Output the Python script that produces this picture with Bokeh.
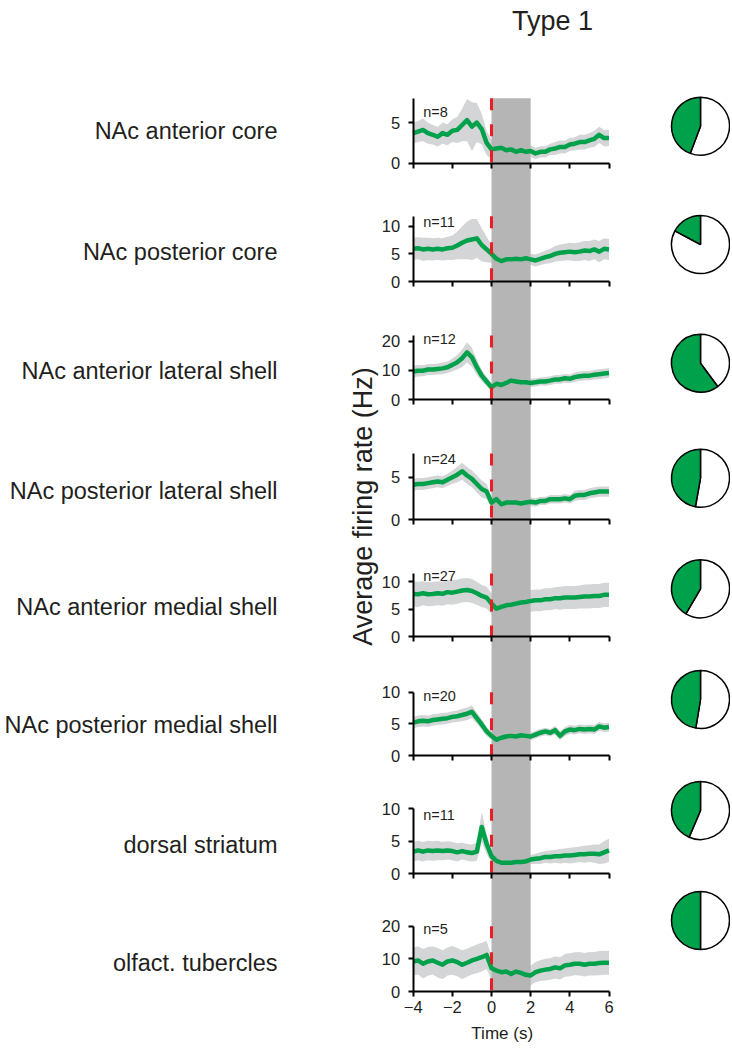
import math
from bokeh.plotting import figure
from bokeh.models import Range1d, LinearAxis, FixedTicker, ColumnDataSource, Label
from bokeh.core.properties import value
from bokeh.embed import file_html
from bokeh.resources import INLINE

# ---------------- data ----------------
TIME = [-4.0, -3.75, -3.5, -3.25, -3.0, -2.75, -2.5, -2.25, -2.0, -1.75, -1.5, -1.25, -1.0, -0.75,
        -0.5, -0.25, 0.0, 0.25, 0.5, 0.75, 1.0, 1.25, 1.5, 1.75, 2.0, 2.25, 2.5, 2.75, 3.0, 3.25,
        3.5, 3.75, 4.0, 4.25, 4.5, 4.75, 5.0, 5.25, 5.5, 5.75, 6.0]

REGIONS = ["NAc anterior core", "NAc posterior core", "NAc anterior lateral shell",
           "NAc posterior lateral shell", "NAc anterior medial shell", "NAc posterior medial shell",
           "dorsal striatum", "olfact. tubercles"]
N_UNITS = [8, 11, 12, 24, 27, 20, 11, 5]
AXIS_TOP = [8, 11.8, 22, 7.8, 11.5, 10, 10, 20]
Y_TICKS = [[0, 5], [0, 5, 10], [0, 10, 20], [0, 5], [0, 5, 10], [0, 5, 10], [0, 5, 10], [0, 10, 20]]
X_TICKS = [-4, -2, 0, 2, 4, 6]
STIM_START, STIM_END = 0, 2
PIE_FRACTION = [0.443, 0.172, 0.601, 0.472, 0.416, 0.474, 0.436, 0.5]

MEAN_ANT_CORE = [3.7, 3.9, 4.1, 3.7, 3.5, 3.25, 3.7, 3.5, 4.0, 4.1, 4.7, 5.3, 4.5, 5.0, 4.2, 2.5, 1.7,
                 1.8, 1.9, 1.6, 1.7, 1.4, 1.6, 1.4, 1.5, 1.2, 1.4, 1.4, 1.7, 1.8, 2.0, 2.0, 2.3, 2.4,
                 2.6, 2.6, 2.8, 3.0, 3.5, 3.1, 3.1]
SEM_ANT_CORE = [1.3, 1.3, 1.4, 1.3, 1.2, 1.2, 1.3, 1.3, 1.4, 1.6, 2.0, 2.6, 3.0, 2.4, 1.9, 1.5, 1.2,
                1.0, 0.8, 0.8, 0.7, 0.7, 0.7, 0.7, 0.7, 0.7, 0.7, 0.7, 0.7, 0.8, 0.8, 0.8, 0.8, 0.8,
                0.9, 0.9, 0.9, 1.0, 1.0, 1.0, 1.0]

MEAN_POST_CORE = [5.9, 6.0, 5.8, 5.9, 5.8, 5.9, 5.8, 6.0, 6.1, 6.5, 7.0, 7.4, 7.6, 7.8, 6.6, 5.8, 5.0,
                  4.1, 3.7, 4.0, 4.0, 4.1, 4.0, 4.2, 4.0, 3.8, 4.1, 4.4, 4.6, 5.0, 5.2, 5.3, 5.4, 5.3,
                  5.4, 5.6, 5.5, 5.8, 5.4, 5.9, 5.8]
SEM_POST_CORE = [2.0, 2.0, 2.1, 2.0, 2.0, 2.0, 2.0, 2.1, 2.2, 2.5, 3.0, 3.4, 3.7, 3.5, 3.0, 2.3, 1.6,
                 1.2, 1.0, 1.0, 1.0, 1.0, 1.0, 1.0, 1.0, 1.1, 1.1, 1.2, 1.3, 1.4, 1.5, 1.5, 1.6, 1.6,
                 1.7, 1.7, 1.8, 1.8, 1.9, 1.9, 1.9]

MEAN_ANT_LAT = [9.6, 9.9, 9.9, 10.3, 10.3, 10.5, 10.7, 11.1, 11.9, 12.8, 14.2, 16.2, 14.5, 11.1, 8.2,
                6.2, 4.2, 5.4, 5.0, 5.7, 6.5, 6.2, 5.9, 5.9, 5.7, 5.9, 6.2, 6.2, 6.5, 6.9, 6.9, 7.3,
                7.1, 7.7, 8.0, 8.2, 8.2, 8.5, 8.7, 8.9, 9.1]
SEM_ANT_LAT = [2.0, 2.0, 1.9, 1.9, 1.9, 1.9, 2.0, 2.0, 2.2, 2.5, 3.0, 3.5, 3.2, 2.6, 2.0, 1.6, 1.4,
               1.4, 1.4, 1.4, 1.4, 1.4, 1.4, 1.4, 1.4, 1.4, 1.4, 1.5, 1.5, 1.5, 1.5, 1.5, 1.5, 1.6,
               1.6, 1.6, 1.6, 1.6, 1.7, 1.7, 1.7]

MEAN_POST_LAT = [4.1, 4.2, 4.2, 4.3, 4.4, 4.5, 4.4, 4.7, 5.0, 5.3, 5.7, 5.2, 4.8, 4.2, 3.6, 3.3, 2.0,
                 2.4, 1.8, 2.0, 2.0, 2.0, 1.9, 2.0, 2.1, 2.0, 2.2, 2.2, 2.4, 2.4, 2.4, 2.5, 2.4, 2.8,
                 2.9, 2.9, 3.1, 3.2, 3.3, 3.3, 3.3]
SEM_POST_LAT = [0.7, 0.7, 0.7, 0.7, 0.7, 0.7, 0.7, 0.7, 0.8, 0.9, 1.0, 1.0, 1.0, 1.0, 1.0, 0.9, 0.7,
                0.6, 0.5, 0.5, 0.5, 0.5, 0.5, 0.5, 0.5, 0.5, 0.5, 0.5, 0.5, 0.5, 0.5, 0.5, 0.5, 0.6,
                0.6, 0.6, 0.6, 0.6, 0.6, 0.6, 0.6]

MEAN_ANT_MED = [7.75, 7.7, 7.9, 7.7, 7.75, 7.9, 7.8, 8.1, 8.0, 8.2, 8.4, 8.5, 8.3, 7.9, 7.4, 7.1,
                6.0, 5.1, 5.4, 5.7, 5.8, 6.0, 6.2, 6.3, 6.5, 6.6, 6.6, 6.8, 6.8, 7.0, 7.0, 7.1, 7.1,
                7.1, 7.2, 7.3, 7.3, 7.4, 7.4, 7.6, 7.6]
SEM_ANT_MED = [2.3, 2.3, 2.2, 2.2, 2.2, 2.2, 2.2, 2.2, 2.2, 2.2, 2.2, 2.2, 2.2, 2.1, 2.0, 2.0, 1.9,
               1.9, 1.9, 1.9, 1.9, 1.9, 1.9, 2.0, 2.0, 2.0, 2.0, 2.0, 2.0, 2.0, 2.1, 2.1, 2.1, 2.1,
               2.1, 2.2, 2.2, 2.2, 2.2, 2.2, 2.2]

MEAN_POST_MED = [5.2, 5.4, 5.5, 5.4, 5.6, 5.7, 5.8, 5.9, 6.1, 6.2, 6.4, 6.6, 6.9, 5.9, 4.9, 3.8, 3.1,
                 2.5, 2.8, 3.0, 3.1, 3.0, 3.2, 3.1, 3.0, 3.3, 3.6, 3.8, 3.6, 4.0, 3.1, 3.8, 4.1, 4.0,
                 4.2, 4.1, 4.2, 4.1, 4.6, 4.4, 4.5]
SEM_POST_MED = [0.9, 0.9, 0.9, 0.9, 0.9, 0.9, 0.9, 0.9, 0.9, 0.9, 1.0, 1.0, 1.0, 0.9, 0.8, 0.7, 0.6,
                0.6, 0.6, 0.6, 0.6, 0.6, 0.6, 0.6, 0.6, 0.6, 0.6, 0.6, 0.6, 0.7, 0.7, 0.7, 0.7, 0.7,
                0.7, 0.7, 0.7, 0.7, 0.7, 0.7, 0.7]

MEAN_DORSAL = [3.4, 3.6, 3.4, 3.6, 3.5, 3.6, 3.5, 3.6, 3.5, 3.3, 3.5, 3.3, 3.2, 3.4, 7.2, 4.6, 2.7,
               2.0, 1.7, 1.7, 1.7, 1.8, 1.8, 1.9, 2.2, 2.3, 2.4, 2.6, 2.6, 2.7, 2.7, 2.8, 2.8, 2.9,
               3.0, 3.0, 3.1, 3.1, 3.0, 3.3, 3.6]
SEM_DORSAL = [1.5, 1.5, 1.5, 1.5, 1.5, 1.5, 1.4, 1.4, 1.4, 1.4, 1.3, 1.3, 1.3, 1.4, 2.3, 1.5, 1.0,
              0.7, 0.6, 0.6, 0.6, 0.6, 0.6, 0.7, 0.7, 0.8, 0.9, 0.9, 1.0, 1.0, 1.1, 1.1, 1.2, 1.2,
              1.2, 1.3, 1.3, 1.4, 1.5, 1.7, 1.8]

MEAN_OLFACT = [9.2, 9.5, 8.5, 9.2, 9.5, 8.8, 8.2, 9.2, 9.5, 9.0, 8.2, 8.8, 9.5, 10.0, 10.5, 11.2,
               7.1, 6.4, 5.9, 6.1, 5.4, 6.1, 5.7, 5.1, 4.9, 5.9, 6.4, 6.7, 6.9, 7.4, 7.1, 8.0, 8.2,
               8.5, 8.5, 8.2, 8.5, 8.5, 8.7, 8.8, 8.8]
SEM_OLFACT = [4.3, 4.3, 4.5, 4.4, 4.3, 4.5, 4.4, 4.3, 4.4, 4.3, 4.4, 4.3, 4.3, 4.4, 4.4, 4.3, 3.6,
              3.3, 3.1, 3.0, 3.0, 3.0, 3.0, 3.0, 3.0, 3.1, 3.2, 3.3, 3.3, 3.4, 3.4, 3.5, 3.5, 3.5,
              3.6, 3.6, 3.6, 3.6, 3.7, 3.7, 3.7]

MEANS = [MEAN_ANT_CORE, MEAN_POST_CORE, MEAN_ANT_LAT, MEAN_POST_LAT,
         MEAN_ANT_MED, MEAN_POST_MED, MEAN_DORSAL, MEAN_OLFACT]
SEMS = [SEM_ANT_CORE, SEM_POST_CORE, SEM_ANT_LAT, SEM_POST_LAT,
        SEM_ANT_MED, SEM_POST_MED, SEM_DORSAL, SEM_OLFACT]

# ---------------- layout (page pixels; canvas sits at the page origin) ----------------
W, H = 730, 1046
OFF = 0
ZERO_PAGE = [162.7, 281, 399, 519, 636, 755, 873.3, 991]
PANEL_PX = [65, 65.3, 64, 66, 63, 63.3, 65, 65.3]
T_LEFT_PX, T_RIGHT_PX = 412.7, 608.5
LABEL_RIGHT = 277
LABEL_Y = [130, 251, 370, 490, 606, 724, 844, 962]
NLAB_X = 422.7
NLAB_Y = [111.7, 221, 338.3, 458.3, 575, 695, 814, 928]
PIE_X = 700
PIE_Y = [125.7, 244, 362.7, 477.7, 588.3, 699, 810, 920]
PIE_R = 29

GREEN = "#00A14B"
SEM_COLOR = "#D4D5D6"
BAND_COLOR = "#B5B5B5"
RED = "#ED1C24"
FONT = "Liberation Sans"
TEXT_COLOR = "#231F20"

pxu = (T_RIGHT_PX - T_LEFT_PX) / (X_TICKS[-1] - X_TICKS[0])
t_start = X_TICKS[0] - (T_LEFT_PX - OFF) / pxu
t_end = X_TICKS[-1] + (W - (T_RIGHT_PX - OFF)) / pxu

p = figure(width=W, height=H, output_backend="svg", toolbar_location=None,
           x_range=Range1d(0, W), y_range=Range1d(H, 0),
           x_axis_type=None, y_axis_type=None, min_border=0,
           outline_line_color=None, background_fill_color="white")
p.extra_x_ranges = {"t": Range1d(t_start, t_end)}

ranges = {}
for i in range(8):
    zc = ZERO_PAGE[i] - OFF
    s = PANEL_PX[i] / AXIS_TOP[i]
    ranges[f"p{i}"] = Range1d((zc - H) / s, zc / s)
p.extra_y_ranges = ranges


def style_axis(ax):
    ax.axis_line_color = "black"
    ax.axis_line_width = 2
    ax.major_tick_line_color = "black"
    ax.major_tick_line_width = 2
    ax.major_tick_in = 0
    ax.major_tick_out = 5
    ax.minor_tick_line_color = None
    ax.major_label_text_font = FONT
    ax.major_label_text_font_size = "16.5px"
    ax.major_label_text_color = TEXT_COLOR


sources = []
for i in range(8):
    m, e = MEANS[i], SEMS[i]
    src = ColumnDataSource(dict(t=TIME, m=m,
                                lo=[a - b for a, b in zip(m, e)],
                                hi=[a + b for a, b in zip(m, e)]))
    sources.append(src)
    p.varea(x="t", y1="lo", y2="hi", source=src, x_range_name="t", y_range_name=f"p{i}",
            fill_color=SEM_COLOR)

# stimulus band, spanning all panels
p.quad(left=[STIM_START], right=[STIM_END],
       top=[ZERO_PAGE[0] - PANEL_PX[0] - OFF], bottom=[ZERO_PAGE[-1] - OFF],
       x_range_name="t", fill_color=BAND_COLOR, line_color=None)

for i in range(8):
    p.line(x="t", y="m", source=sources[i], x_range_name="t", y_range_name=f"p{i}",
           line_color=GREEN, line_width=4.5, line_join="round")
    p.segment(x0=[0], y0=[AXIS_TOP[i]], x1=[0], y1=[0], x_range_name="t", y_range_name=f"p{i}",
              line_color=RED, line_width=3, line_dash="12 14")

    yax = LinearAxis(x_range_name="t", y_range_name=f"p{i}", fixed_location=X_TICKS[0],
                     bounds=(0, AXIS_TOP[i]), ticker=FixedTicker(ticks=Y_TICKS[i]))
    style_axis(yax)
    yax.major_label_standoff = 8
    p.add_layout(yax, "left")

    xax = LinearAxis(x_range_name="t", y_range_name=f"p{i}", fixed_location=0,
                     bounds=(X_TICKS[0], X_TICKS[-1]), ticker=FixedTicker(ticks=X_TICKS))
    style_axis(xax)
    xax.major_label_standoff = 4
    if i < 7:
        xax.major_label_overrides = {t: "" for t in X_TICKS}
    p.add_layout(xax, "below")

# pies
for i in range(8):
    f = PIE_FRACTION[i]
    cx, cy = PIE_X - OFF, PIE_Y[i] - OFF
    a0 = math.pi / 2
    a1 = a0 + 2 * math.pi * f
    p.wedge(x=[cx], y=[cy], radius=PIE_R, start_angle=a1, end_angle=a0 + 2 * math.pi,
            direction="anticlock", fill_color="white", line_color="black", line_width=1.5)
    p.wedge(x=[cx], y=[cy], radius=PIE_R, start_angle=a0, end_angle=a1,
            direction="anticlock", fill_color=GREEN, line_color="black", line_width=1.5)

# region labels
p.text(x=[LABEL_RIGHT - OFF] * 8, y=[y - OFF for y in LABEL_Y], text=REGIONS,
       text_align="right", text_baseline="middle", text_font=value(FONT),
       text_font_size="23.5px", text_color=TEXT_COLOR)

# n labels
p.text(x=[NLAB_X - OFF] * 8, y=[y - OFF for y in NLAB_Y], text=[f"n={n}" for n in N_UNITS],
       text_align="left", text_baseline="middle", text_font=value(FONT),
       text_font_size="14.5px", text_color=TEXT_COLOR)

p.add_layout(Label(x=552 - OFF, y=20 - OFF, text="Type 1", text_align="center",
                   text_baseline="middle", text_font=FONT, text_font_size="27px",
                   text_color=TEXT_COLOR))
p.add_layout(Label(x=362 - OFF, y=506 - OFF, text="Average firing rate (Hz)", angle=math.pi / 2,
                   text_align="center", text_baseline="middle", text_font=FONT,
                   text_font_size="27px", text_color=TEXT_COLOR))
p.add_layout(Label(x=501.7 - OFF, y=1033 - OFF, text="Time (s)", text_align="center",
                   text_baseline="middle", text_font=FONT, text_font_size="17px",
                   text_color=TEXT_COLOR))

open("out.html", "w").write(file_html(p, INLINE))
